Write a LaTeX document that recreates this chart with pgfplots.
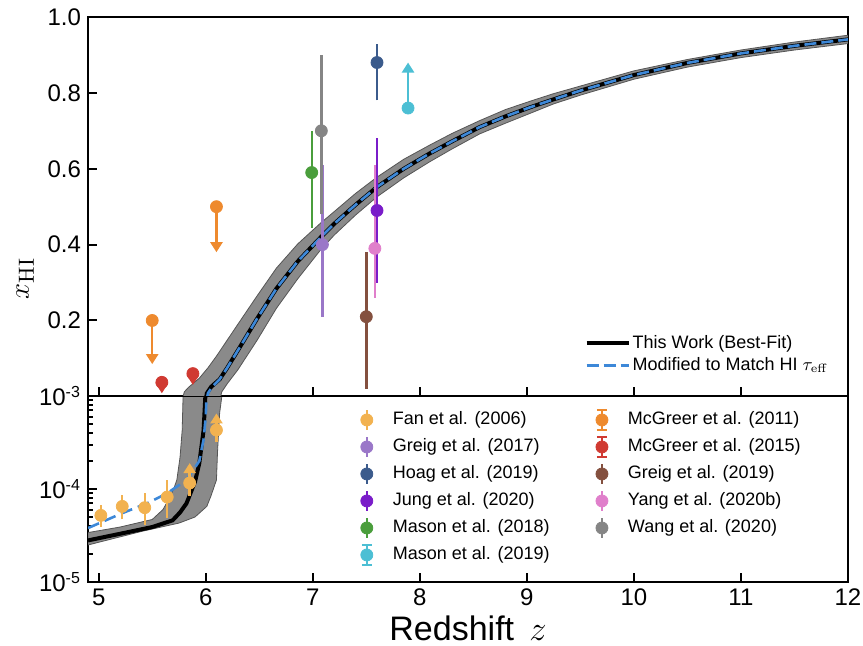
\documentclass[border=0pt]{standalone}
\usepackage[no-math]{fontspec}
\setmainfont{Liberation Sans}
\usepackage{pgfplots}
\pgfplotsset{compat=1.18}
\usetikzlibrary{arrows.meta}

\definecolor{fanc}{HTML}{F2B250}
\definecolor{greigA}{HTML}{9A77C8}
\definecolor{hoag}{HTML}{3B5B8C}
\definecolor{jung}{HTML}{7A1CC9}
\definecolor{masonA}{HTML}{4A9E3C}
\definecolor{masonB}{HTML}{4CBFD4}
\definecolor{mcgA}{HTML}{EE8A2E}
\definecolor{mcgB}{HTML}{D03A32}
\definecolor{greigB}{HTML}{84503F}
\definecolor{yang}{HTML}{E07FCB}
\definecolor{wang}{HTML}{858585}
\definecolor{modblue}{HTML}{3D88D8}
\definecolor{bandc}{HTML}{8A8A8A}
\definecolor{bandedge}{HTML}{555555}

\pgfplotsset{
  base/.style={
    scale only axis, width=380pt, xmin=4.9, xmax=12,
    axis line style={line width=1.2pt},
    every tick/.style={line width=1pt, black},
    major tick length=4.5pt, minor tick length=2.5pt,
    tick align=inside, tick pos=left,
    xtick={5,...,12},
    ticklabel style={font=\fontsize{12}{14}\selectfont},
    /pgf/number format/assume math mode=true,
    clip=true,
  },
  pt/.style={only marks, mark=*, mark size=3pt, color=#1, forget plot},
  eb/.style={color=#1, line width=1.2pt, forget plot},
  arr/.style={color=#1, line width=1.2pt, forget plot, -{Triangle[width=6pt,length=5pt]}},
  capimg/.style={legend image code/.code={
    \draw[##1, line width=1.2pt] (0pt,-5pt) -- (0pt,5pt);
    \draw[##1, line width=1pt] (-2.5pt,-5pt) -- (2.5pt,-5pt) (-2.5pt,5pt) -- (2.5pt,5pt);
    \fill[##1] (0pt,0pt) circle (3pt);
    \path[draw=none, fill=none] (-3pt,0pt) -- (12pt,0pt);}},
}

\begin{document}
\begin{tikzpicture}
\useasboundingbox (-44pt,-32pt) rectangle (387.5pt,291pt);

% ---------------- bottom (log) panel ----------------
\begin{axis}[base, at={(0,0)}, anchor=south west, height=93pt,
  ymode=log, ymin=1e-5, ymax=1e-3,
  ytick={1e-5,1e-4,1e-3},
  yticklabels={10\textsuperscript{-5},10\textsuperscript{-4},10\textsuperscript{-3}},
  xticklabels={5,6,7,8,9,10,11,12},
  xlabel={Redshift \,$z$},
  xlabel style={font=\fontsize{17}{20}\selectfont, yshift=2pt},
  legend cell align=left,
  legend columns=6, transpose legend,
  legend image code/.code={
    \draw[#1, line width=1.2pt] (0pt,-5pt) -- (0pt,5pt);
    \fill[#1] (0pt,0pt) circle (3pt);
    \path[draw=none, fill=none] (-3pt,0pt) -- (12pt,0pt);},
  legend style={at={(0.35,0.955)}, anchor=north west, draw=none, fill=none,
    font=\fontsize{9}{11}\selectfont,
    nodes={inner sep=1pt, text height=7pt, text depth=2pt},
    row sep=2.3pt,
    /tikz/every even column/.append style={column sep=22pt}},
]
% band
\addplot[fill=bandc, draw=bandedge, line width=0.4pt, forget plot] coordinates {
 (4.9,3.4e-5) (5.2,3.9e-5) (5.5,4.7e-5) (5.6,6.0e-5) (5.65,7.6e-5) (5.7,1.0e-4) (5.73,1.25e-4)
 (5.76,2.2e-4) (5.78,4.3e-4) (5.79,1.2e-3)
 (6.16,1.2e-3) (6.13,6.6e-4) (6.11,2.5e-4) (6.1,1.25e-4) (6.05,8.5e-5) (6.01,6.5e-5) (5.9,5.0e-5)
 (5.75,4.3e-5) (5.4,3.5e-5) (4.9,2.5e-5)} -- cycle;
% best fit
\addplot[black, line width=2pt, forget plot] coordinates {
 (4.9,2.8e-5) (5.2,3.3e-5) (5.5,3.9e-5) (5.69,4.6e-5) (5.76,5.6e-5) (5.82,7e-5) (5.9,1.2e-4)
 (5.94,1.9e-4) (5.98,4.3e-4) (6.0,1.2e-3)};
% modified
\addplot[modblue, line width=1.3pt, dash pattern=on 6pt off 3pt, forget plot] coordinates {
 (4.9,3.8e-5) (5.22,5.5e-5) (5.45,7.0e-5) (5.64,9e-5) (5.82,1.25e-4) (5.94,2e-4) (5.98,3.4e-4)
 (6.0,6e-4) (6.01,1.2e-3)};
% Fan et al. 2006
\addplot[eb=fanc] coordinates {(5.02,3.9e-5) (5.02,6.8e-5)};
\addplot[eb=fanc] coordinates {(5.22,4.7e-5) (5.22,8.7e-5)};
\addplot[eb=fanc] coordinates {(5.43,4.1e-5) (5.43,9.1e-5)};
\addplot[eb=fanc] coordinates {(5.64,4.9e-5) (5.64,1.26e-4)};
\addplot[arr=fanc] coordinates {(5.85,8.5e-5) (5.85,1.9e-4)};
\addplot[arr=fanc] coordinates {(6.1,3.2e-4) (6.1,6.5e-4)};
\addplot[pt=fanc] coordinates {(5.02,5.2e-5) (5.22,6.5e-5) (5.43,6.3e-5) (5.64,8.2e-5) (5.85,1.16e-4) (6.1,4.3e-4)};

\addlegendimage{fanc}\addlegendentry{Fan et al. (2006)}
\addlegendimage{greigA}\addlegendentry{Greig et al. (2017)}
\addlegendimage{hoag}\addlegendentry{Hoag et al. (2019)}
\addlegendimage{jung}\addlegendentry{Jung et al. (2020)}
\addlegendimage{masonA}\addlegendentry{Mason et al. (2018)}
\addlegendimage{masonB, capimg}\addlegendentry{Mason et al. (2019)}
\addlegendimage{mcgA, capimg}\addlegendentry{McGreer et al. (2011)}
\addlegendimage{mcgB, capimg}\addlegendentry{McGreer et al. (2015)}
\addlegendimage{greigB}\addlegendentry{Greig et al. (2019)}
\addlegendimage{yang}\addlegendentry{Yang et al. (2020b)}
\addlegendimage{wang}\addlegendentry{Wang et al. (2020)}
\end{axis}

% ---------------- top (linear) panel ----------------
\begin{axis}[base, at={(0,93pt)}, anchor=south west, height=189.5pt,
  ymin=0.001, ymax=1.0,
  ytick={0.2,0.4,0.6,0.8,1.0},
  yticklabel style={/pgf/number format/.cd, fixed, fixed zerofill, precision=1},
  xticklabels={},
  ylabel={$x_{\mathrm{HI}}$},
  ylabel style={at={(ticklabel cs:0.31)}, font=\fontsize{15}{18}\selectfont},
  legend cell align=left,
  legend image code/.code={\draw[#1] (0pt,0pt) -- (21pt,0pt);},
  legend style={at={(0.985,0.04)}, anchor=south east, draw=none, fill=none,
    font=\fontsize{9}{11}\selectfont,
    nodes={inner sep=1pt, text height=7pt, text depth=2pt},
    row sep=0pt,
    /tikz/every even column/.append style={column sep=0pt}},
]
% band
\addplot[fill=bandc, draw=bandedge, line width=0.4pt, forget plot] coordinates {
 (5.78,-0.01) (5.80,0.012) (5.84,0.024) (5.94,0.048) (6.02,0.075) (6.1,0.106) (6.2,0.148) (6.3,0.19)
 (6.48,0.265) (6.66,0.338) (6.86,0.402) (7.07,0.456) (7.2,0.487) (7.4,0.535) (7.6,0.578) (7.85,0.625)
 (8.09,0.662) (8.3,0.693) (8.56,0.727) (8.8,0.756) (9.03,0.778) (9.25,0.798) (9.5,0.818) (10,0.858)
 (10.5,0.888) (11,0.913) (11.5,0.934) (12,0.952)
 (12,0.93) (11.5,0.913) (11,0.893) (10.5,0.868) (10,0.836) (9.5,0.794) (9.25,0.771) (9.03,0.746)
 (8.8,0.72) (8.56,0.692) (8.3,0.652) (8.09,0.618) (7.85,0.576) (7.6,0.526) (7.4,0.478) (7.2,0.425)
 (7.07,0.385) (6.86,0.31) (6.66,0.232) (6.48,0.148) (6.3,0.07) (6.2,0.033) (6.15,0.012) (6.13,-0.01)} -- cycle;
% best fit
\addplot[black, line width=2pt] coordinates {
 (6.0,-0.01) (6.01,0.008) (6.05,0.025) (6.13,0.045) (6.2,0.075) (6.3,0.121) (6.48,0.205) (6.66,0.284)
 (6.86,0.356) (7.07,0.418) (7.2,0.455) (7.4,0.505) (7.6,0.552) (7.85,0.6) (8.09,0.64) (8.3,0.672)
 (8.56,0.71) (8.8,0.738) (9.03,0.762) (9.25,0.783) (9.5,0.806) (10,0.847) (10.5,0.879) (11,0.904)
 (11.5,0.924) (12,0.941)};
\addlegendentry{This Work (Best-Fit)}
% modified
\addplot[modblue, line width=1.3pt, dash pattern=on 6pt off 2.5pt] coordinates {
 (6.01,-0.01) (6.02,0.008) (6.06,0.025) (6.13,0.045) (6.2,0.075) (6.3,0.121) (6.48,0.205) (6.66,0.284)
 (6.86,0.356) (7.07,0.418) (7.2,0.455) (7.4,0.505) (7.6,0.552) (7.85,0.6) (8.09,0.64) (8.3,0.672)
 (8.56,0.71) (8.8,0.738) (9.03,0.762) (9.25,0.783) (9.5,0.806) (10,0.847) (10.5,0.879) (11,0.904)
 (11.5,0.924) (12,0.941)};
\addlegendentry{Modified to Match HI $\tau_{\mathrm{eff}}$}

% McGreer 2011 (upper limits)
\addplot[arr=mcgA] coordinates {(5.5,0.2) (5.5,0.085)};
\addplot[arr=mcgA] coordinates {(6.1,0.5) (6.1,0.38)};
\addplot[pt=mcgA] coordinates {(5.5,0.2) (6.1,0.5)};
% McGreer 2015
\addplot[arr=mcgB] coordinates {(5.59,0.04) (5.59,0.008)};
\addplot[arr=mcgB] coordinates {(5.88,0.06) (5.88,0.03)};
\addplot[pt=mcgB] coordinates {(5.59,0.037) (5.88,0.06)};
% Greig 2017
\addplot[eb=greigA] coordinates {(7.09,0.21) (7.09,0.61)};
% Greig 2019
\addplot[eb=greigB] coordinates {(7.5,0.02) (7.5,0.38)};
% Yang 2020b
\addplot[eb=yang] coordinates {(7.58,0.26) (7.58,0.61)};
% Jung 2020
\addplot[eb=jung] coordinates {(7.6,0.30) (7.6,0.68)};
% Hoag 2019
\addplot[eb=hoag] coordinates {(7.6,0.78) (7.6,0.93)};
% Mason 2018
\addplot[eb=masonA] coordinates {(6.99,0.445) (6.99,0.70)};
% Wang 2020
\addplot[eb=wang] coordinates {(7.08,0.48) (7.08,0.90)};
% Mason 2019 (lower limit)
\addplot[arr=masonB] coordinates {(7.89,0.76) (7.89,0.88)};

\addplot[pt=greigA] coordinates {(7.09,0.40)};
\addplot[pt=greigB] coordinates {(7.5,0.21)};
\addplot[pt=yang] coordinates {(7.58,0.39)};
\addplot[pt=jung] coordinates {(7.6,0.49)};
\addplot[pt=hoag] coordinates {(7.6,0.88)};
\addplot[pt=masonA] coordinates {(6.99,0.59)};
\addplot[pt=wang] coordinates {(7.08,0.70)};
\addplot[pt=masonB] coordinates {(7.89,0.76)};
\end{axis}
\end{tikzpicture}
\end{document}
